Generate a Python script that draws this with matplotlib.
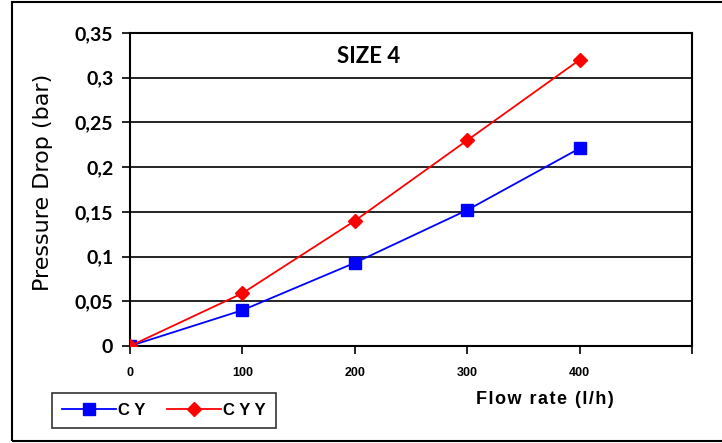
import matplotlib.pyplot as plt
from matplotlib.patches import Rectangle
from matplotlib.ticker import FuncFormatter

plt.rcParams["font.family"] = ["Liberation Sans", "DejaVu Sans"]

flow = [0, 100, 200, 300, 400]
cy = [0.0, 0.040, 0.093, 0.152, 0.221]
cyy = [0.0, 0.059, 0.140, 0.230, 0.320]

fig = plt.figure(figsize=(7.22, 4.43), dpi=100)
ax = fig.add_axes([130 / 722, 1 - 346 / 443, (692 - 130) / 722, (346 - 33) / 443])

ax.plot(flow, cy, color="#0000ff", marker="s", markersize=8, linewidth=1.3, label="C Y", zorder=3)
ax.plot(flow, cyy, color="#ff0000", marker="D", markersize=7.5, linewidth=1.3, label="C Y Y", zorder=4)

ax.set_xlim(0, 500)
ax.set_ylim(0, 0.35)
ax.set_xticks([0, 100, 200, 300, 400, 500])
ax.set_xticklabels(["0", "100", "200", "300", "400", ""])
ax.set_yticks([0, 0.05, 0.1, 0.15, 0.2, 0.25, 0.3, 0.35])
ax.yaxis.set_major_formatter(FuncFormatter(lambda v, p: ("%g" % round(v, 2)).replace(".", ",")))
ax.yaxis.grid(True, color="black", linewidth=1.2)
ax.set_axisbelow(True)
for s in ax.spines.values():
    s.set_linewidth(1.5)
ax.tick_params(axis="y", length=6, width=1.2, labelsize=14, pad=6)
ax.tick_params(axis="x", length=6, width=1.2, labelsize=9, pad=9)
for lbl in ax.get_yticklabels():
    lbl.set_fontweight("bold")
    lbl.set_family("Lato")
for lbl in ax.get_xticklabels():
    lbl.set_fontweight("bold")

ax.set_ylabel("Pressure Drop (bar)", fontsize=16, family="DejaVu Sans")
ax.yaxis.set_label_coords(-0.137, 0.524)
ax.text(0.424, 0.96, "SIZE 4", transform=ax.transAxes, fontsize=16, fontweight="bold",
        family="Lato", ha="center", va="top")
xlabel = "\u200a".join("Flow rate (l/h)")
fig.text(545 / 722, 1 - 400 / 443, xlabel, fontsize=13, fontweight="bold",
         ha="center", va="center")

leg = fig.legend(loc="lower left", bbox_to_anchor=(44 / 722, 1 - 436 / 443), ncol=2,
                 frameon=True, fancybox=False, edgecolor="black", fontsize=12,
                 handlelength=3.2, handletextpad=0.15, borderpad=0.6, columnspacing=1.3)
leg.get_frame().set_linewidth(1.2)
for t in leg.get_texts():
    t.set_fontweight("bold")

fig.patches.append(Rectangle((12 / 722, 2 / 443), 1.0, 439 / 443, transform=fig.transFigure,
                             fill=False, edgecolor="black", linewidth=1.5))

fig.savefig("out.png", dpi=100)
